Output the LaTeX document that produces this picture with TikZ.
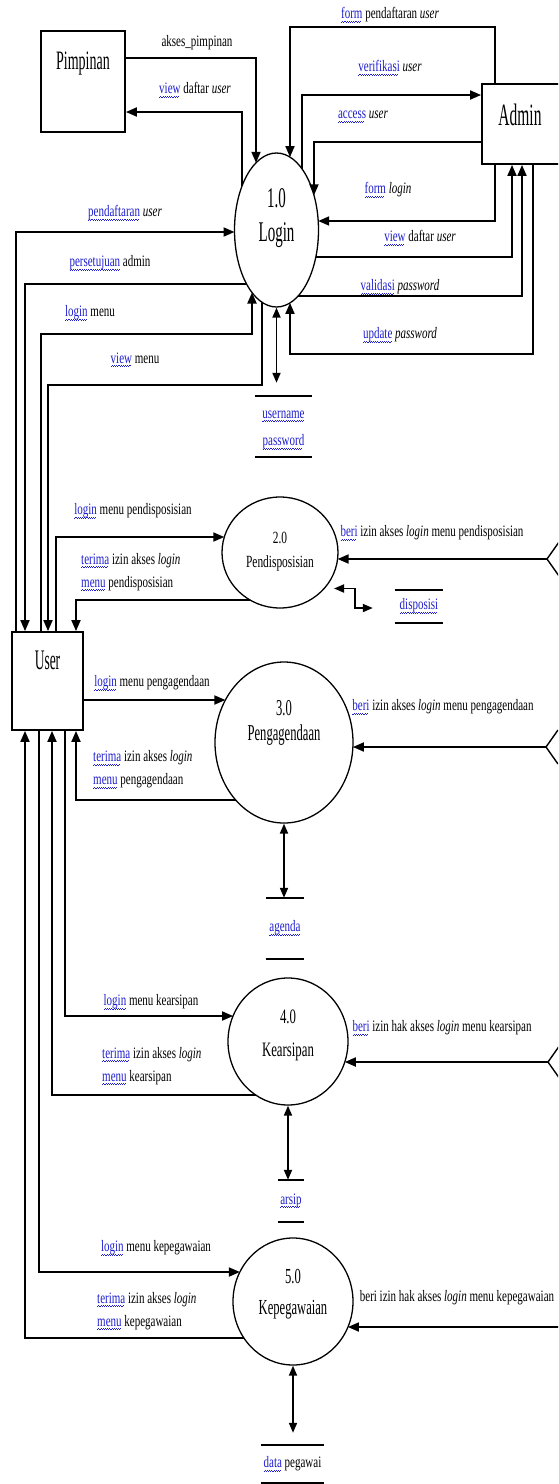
\documentclass[tikz,border=0pt]{standalone}
\usepackage{fontspec}
\setmainfont{Liberation Serif}
\usepackage{graphicx}
\usetikzlibrary{shapes.geometric,arrows.meta,calc}
\definecolor{wordblue}{RGB}{30,30,205}
% word marked in blue with a wavy underline
\newcommand\bw[1]{{\color{wordblue}\setbox0=\hbox{#1}%
  \rlap{\hbox to \wd0{\leaders\hbox{\rule[-2.9pt]{1.1pt}{0.7pt}\rule[-2.2pt]{1.1pt}{0.7pt}}\hfill}}\box0}}
% vertically stretched text
\newcommand\vs[2]{\scalebox{1}[#1]{#2}}
\newcommand\tl[1]{\vs{1.45}{#1}}
\newcommand\tll[2]{\vs{1.45}{\begin{tabular}{@{}l@{}}#1\\#2\end{tabular}}}

\begin{document}
\begin{tikzpicture}[x=1pt,y=-1pt,
  entity/.style={draw,line width=1.8pt,rectangle,inner sep=0pt},
  process/.style={draw,line width=1.3pt,ellipse,inner sep=0pt},
  storeline/.style={line width=1.9pt},
  store/.style={inner sep=0pt,font=\fontsize{11}{19}\selectfont,
    append after command={(\tikzlastnode.north west) edge[storeline] (\tikzlastnode.north east)
      (\tikzlastnode.south west) edge[storeline] (\tikzlastnode.south east)}},
  flow/.style={line width=1.8pt,-{Triangle[length=11pt,width=9pt]}},
  both/.style={line width=1.8pt,{Triangle[length=10pt,width=8pt]}-{Triangle[length=10pt,width=8pt]}},
  edgeline/.style={line width=1.4pt},
  lbl/.style={font=\fontsize{11}{16}\selectfont,inner sep=0pt},
  txt/.style={inner sep=0pt},
]
\useasboundingbox (0,0) rectangle (558,1484);
\clip (0,0) rectangle (558,1484);

% external entities
\node[entity,minimum width=84pt,minimum height=101pt] (pimp) at (83,81.5) {};
\node[txt,font=\fontsize{14}{16}\selectfont] (pimpt) at (83,64) {\vs{1.9}{Pimpinan}};
\node[entity,minimum width=84pt,minimum height=80pt] (admin) at (524,124) {};
\node[txt,font=\fontsize{15.5}{16}\selectfont] (admint) at (520,115) {\vs{2}{Admin}};
\node[entity,minimum width=71pt,minimum height=98pt] (user) at (47.5,681) {};
\node[txt,font=\fontsize{13.5}{16}\selectfont] (usert) at (47.5,660) {\vs{2.1}{User}};

% processes
\node[process,minimum width=84pt,minimum height=154pt] (p1) at (276.5,230) {};
\node[txt,font=\fontsize{15}{16}\selectfont] (p1n) at (276.5,198) {\vs{1.9}{1.0}};
\node[txt,font=\fontsize{15}{16}\selectfont] (p1t) at (276.5,235) {\vs{1.9}{Login}};
\node[process,minimum width=116pt,minimum height=111pt] (p2) at (280,552.5) {};
\node[txt,font=\fontsize{11.4}{14}\selectfont] (p2n) at (280,538) {\vs{1.5}{2.0}};
\node[txt,font=\fontsize{11.4}{14}\selectfont] (p2t) at (280,563) {\vs{1.5}{Pendisposisian}};
\node[process,minimum width=138pt,minimum height=161pt] (p3) at (284,742.5) {};
\node[txt,font=\fontsize{12.6}{14}\selectfont] (p3n) at (284,708) {\vs{1.8}{3.0}};
\node[txt,font=\fontsize{12.6}{14}\selectfont] (p3t) at (284,735) {\vs{1.8}{Pengagendaan}};
\node[process,minimum width=120pt,minimum height=127pt] (p4) at (288,1041.5) {};
\node[txt,font=\fontsize{12.8}{14}\selectfont] (p4n) at (288,1017) {\vs{1.6}{4.0}};
\node[txt,font=\fontsize{12.8}{14}\selectfont] (p4t) at (288,1052) {\vs{1.6}{Kearsipan}};
\node[process,minimum width=120pt,minimum height=127pt] (p5) at (293,1301.5) {};
\node[txt,font=\fontsize{12.6}{14}\selectfont] (p5n) at (293,1277) {\vs{1.7}{5.0}};
\node[txt,font=\fontsize{12.6}{14}\selectfont] (p5t) at (293,1310) {\vs{1.7}{Kepegawaian}};

% data stores
\node[store,minimum width=57pt,minimum height=61pt] (s1) at (283.5,426.5)
  {\vs{1.45}{\begin{tabular}{@{}c@{}}\bw{username}\\\bw{password}\end{tabular}}};
\node[store,minimum width=48pt,minimum height=33pt] (s2) at (419,606.5) {\tl{\bw{disposisi}}};
\node[store,minimum width=38pt,minimum height=61pt] (s3) at (285,928.5) {\tl{\bw{agenda}}};
\node[store,minimum width=26pt,minimum height=42pt] (s4) at (291,1201) {\tl{\bw{arsip}}};
\node[store,minimum width=63pt,minimum height=38pt] (s5) at (292.5,1464) {\tl{\bw{data}~pegawai}};

% entities running off the right edge
\coordinate (r2) at (547,559);
\coordinate (r3) at (546,747);
\coordinate (r4) at (548,1062);
\coordinate (r5) at (562,1327);
\foreach \r in {r2,r3,r4}
  \draw[edgeline] ($(\r)+(12,-17)$) -- (\r) -- ($(\r)+(12,17)$);

% Pimpinan <-> Login
\draw[flow] (pimp.east |- 0,58) -| ($(p1)+(-20.5,-67.2)$);
\draw[flow] ($(p1)+(-34.5,-43.9)$) |- (pimp.east |- 0,112);

% Admin <-> Login
\draw[flow] (admin.north -| 495,0) -- ++(0,-56) -| ($(p1)+(13.5,-72.9)$);
\draw[flow] ($(p1)+(25.5,-61.2)$) |- (admin.west |- 0,95);
\draw[flow] (admin.west |- 0,142) -| ($(p1)+(37.5,-34.7)$);
\draw[flow] (admin.south -| 495,0) |- ($(p1)+(41.7,-9)$);
\draw[flow] ($(p1)+(39.3,27)$) -| (admin.south -| 512,0);
\draw[flow] ($(p1)+(21.6,66)$) -| (admin.south -| 522,0);
\draw[flow] (admin.south -| 533,0) -- ++(0,189) -| ($(p1)+(13.5,72.9)$);

% User <-> Login
\draw[flow] (user.north -| 16,0) |- ($(p1)+(-42,2)$);
\draw[flow] ($(p1)+(-29.9,54)$) -| (user.north -| 25,0);
\draw[flow] (user.north -| 41,0) |- ($(p1)+(-24.5,104)$) -- ($(p1)+(-24.5,62.5)$);
\draw[flow] ($(p1)+(-14.5,72.3)$) -- ($(p1)+(-14.5,155)$) -| (user.north -| 48,0);
\draw[both] (p1.south) -- ($(p1.south |- s1.north)+(0,-13)$);

% Pendisposisian
\draw[flow] (user.north -| 56,0) |- ($(p2)+(-55.7,-15.5)$);
\draw[flow] ($(p2)+(-30,47.5)$) -| (user.north -| 76,0);
\draw[flow] (r2) -- ($(p2)+(57.6,6.5)$);
\draw[both] ($(p2)+(54,36)$) -- ++(21,0) |- ($(s2.west)+(-22,1.5)$);

% Pengagendaan
\draw[flow] (user.east |- 0,700) -- ($(p3)+(-58.6,-42.5)$);
\draw[flow] (r3) -- ($(p3)+(68.9,4.5)$);
\draw[flow] ($(p3)+(-48.3,57.5)$) -| (user.south -| 76,0);
\draw[both] (p3.south) -- (s3.north -| p3.south);

% Kearsipan
\draw[flow] (user.south -| 65,0) |- ($(p4)+(-54.9,-25.5)$);
\draw[flow] (r4) -- ($(p4)+(56.8,20.5)$);
\draw[flow] ($(p4)+(-32.3,53.5)$) -| (user.south -| 52,0);
\draw[both] (p4.south) -- (s4.north -| p4.south);

% Kepegawaian
\draw[flow] (user.south -| 39,0) |- ($(p5)+(-53.1,-29.5)$);
\draw[flow] (r5) -- ($(p5)+(54.9,25.5)$);
\draw[flow] ($(p5)+(-49.1,36.5)$) -| (user.south -| 25,0);
\draw[both] (p5.south) -- ($(s5.north -| p5.south)+(0,-12)$);

% flow labels
\node[lbl] (l1) at (197,43) {\tl{akses\_pimpinan}};
\node[lbl] (l2) at (195,90) {\tl{\bw{view} daftar \textit{user}}};
\node[lbl] (l3) at (390,15) {\tl{\bw{form} pendaftaran \textit{user}}};
\node[lbl] (l4) at (390,68) {\tl{\bw{verifikasi} \textit{user}}};
\node[lbl] (l5) at (363,117) {\tl{\bw{access} \textit{user}}};
\node[lbl] (l6) at (388,190) {\tl{\bw{form} \textit{login}}};
\node[lbl] (l7) at (420,238) {\tl{\bw{view} daftar \textit{user}}};
\node[lbl] (l8) at (400,287) {\tl{\bw{validasi} \textit{password}}};
\node[lbl] (l9) at (400,335) {\tl{\bw{update} \textit{password}}};
\node[lbl] (l10) at (125,213) {\tl{\bw{pendaftaran} \textit{user}}};
\node[lbl] (l11) at (110,263) {\tl{\bw{persetujuan} admin}};
\node[lbl] (l12) at (90,313) {\tl{\bw{login} menu}};
\node[lbl] (l13) at (135,360) {\tl{\bw{view} menu}};
\node[lbl] (l14) at (133,511) {\tl{\bw{login} menu pendisposisian}};
\node[lbl,anchor=west] (l15) at (81,571) {\tll{\bw{terima} izin akses \textit{login}}{\bw{menu} pendisposisian}};
\node[lbl] (l16) at (432,533) {\tl{\bw{beri} izin akses \textit{login} menu pendisposisian}};
\node[lbl] (l17) at (152,683) {\tl{\bw{login} menu pengagendaan}};
\node[lbl] (l18) at (443,707) {\tl{\bw{beri} izin akses \textit{login} menu pengagendaan}};
\node[lbl,anchor=west] (l19) at (93,768.5) {\tll{\bw{terima} izin akses \textit{login}}{\bw{menu} pengagendaan}};
\node[lbl] (l20) at (151,1002) {\tl{\bw{login} menu kearsipan}};
\node[lbl] (l21) at (442,1028) {\tl{\bw{beri} izin hak akses \textit{login} menu kearsipan}};
\node[lbl,anchor=west] (l22) at (102,1065) {\tll{\bw{terima} izin akses \textit{login}}{\bw{menu} kearsipan}};
\node[lbl] (l23) at (156,1248) {\tl{\bw{login} menu kepegawaian}};
\node[lbl] (l24) at (457,1298) {\tl{beri izin hak akses \textit{login} menu kepegawaian}};
\node[lbl,anchor=west] (l25) at (97,1310) {\tll{\bw{terima} izin akses \textit{login}}{\bw{menu} kepegawaian}};
\end{tikzpicture}
\end{document}
